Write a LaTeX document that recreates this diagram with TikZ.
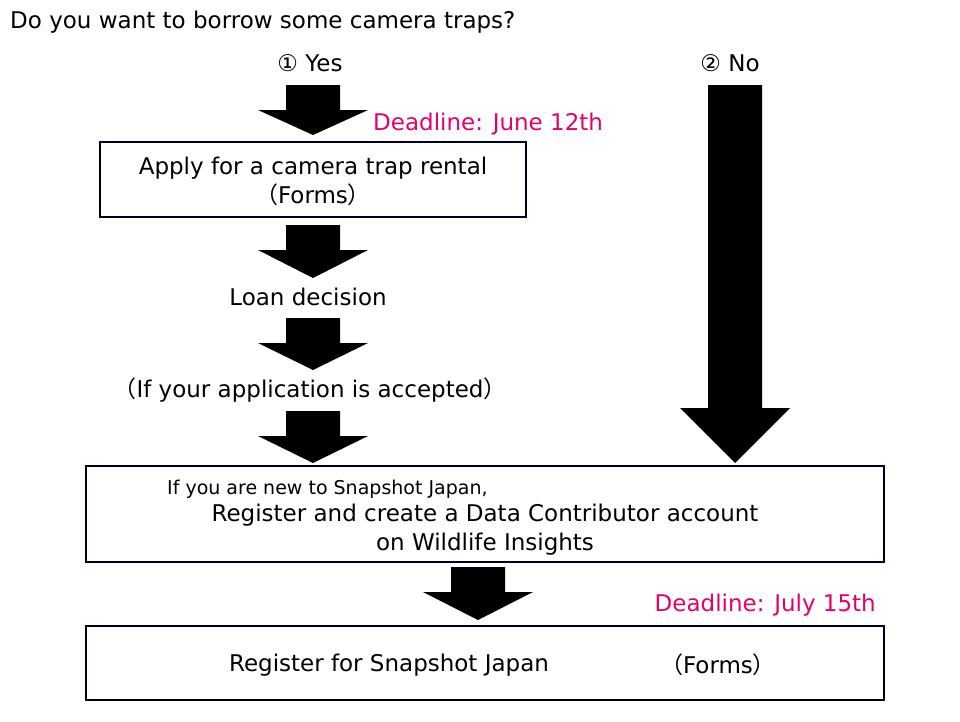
\documentclass[tikz,border=0pt]{standalone}
\usepackage{fontspec}
\setmainfont{DejaVu Sans}
\newfontfamily\cjk{Noto Sans CJK JP}
\usetikzlibrary{positioning}
\definecolor{deadpink}{RGB}{230,0,110}
\tikzset{stepbox/.style={draw=black!85!blue,line width=1.2pt},
  lbl/.style={font=\fontsize{23}{29}\selectfont,inner sep=0pt},
  dline/.style={lbl,text=deadpink}}
\newcommand{\lp}{{\cjk（}}
\newcommand{\rp}{{\cjk）}}
% fat down arrow: x, top, head base, tip, half shaft, half head
\newcommand{\fatarrow}[6]{%
  \fill (#1-#5,#2) -- (#1+#5,#2) -- (#1+#5,#3) -- (#1+#6,#3) -- (#1,#4)
    -- (#1-#6,#3) -- (#1-#5,#3) -- cycle;}

\begin{document}
\begin{tikzpicture}[x=1pt,y=-1pt]
    \useasboundingbox (0,0) rectangle (960,721);

    \node[lbl,anchor=west]
      (Question) at (10,22) {Do you want to borrow some camera traps?};
    \node[lbl] (Yes) at (310,63) {① Yes};
    \node[lbl] (No) at (730,63) {② No};

    \fatarrow{313}{85}{110}{135}{27}{55}
    \node[dline,anchor=west] (DeadlineJune) at (373,124) {Deadline: June 12th};
    \draw[stepbox] (100,142) rectangle (526,217);
    \node[lbl,align=center] (Apply) at (313,181) {Apply for a camera trap rental\\\lp Forms\rp};

    \fatarrow{313}{225}{250}{278}{27}{55}
    \node[lbl] (Loan) at (308,297) {Loan decision};
    \fatarrow{313}{318}{343}{370}{27}{55}
    \node[lbl] (Accepted) at (310,390) {\lp If your application is accepted\rp};
    \fatarrow{313}{411}{436}{463}{27}{55}

    \fatarrow{735}{85}{408}{463}{27}{55}

    \draw[stepbox] (86,466) rectangle (884,562);
    \node[lbl,anchor=west,font=\fontsize{19}{22}\selectfont]
      (New) at (167,489) {If you are new to Snapshot Japan,};
    \node[lbl,align=center] (Account) at (485,530)
      {Register and create a Data Contributor account\\on Wildlife Insights};

    \fatarrow{478}{567}{592}{620}{27}{55}
    \node[dline,anchor=east] (DeadlineJuly) at (876,605) {Deadline: July 15th};
    \draw[stepbox] (86,626) rectangle (884,700);
    \node[lbl] (Register) at (389,665) {Register for Snapshot Japan};
    \node[lbl] (Forms) at (718,665) {\lp Forms\rp};
\end{tikzpicture}
\end{document}
